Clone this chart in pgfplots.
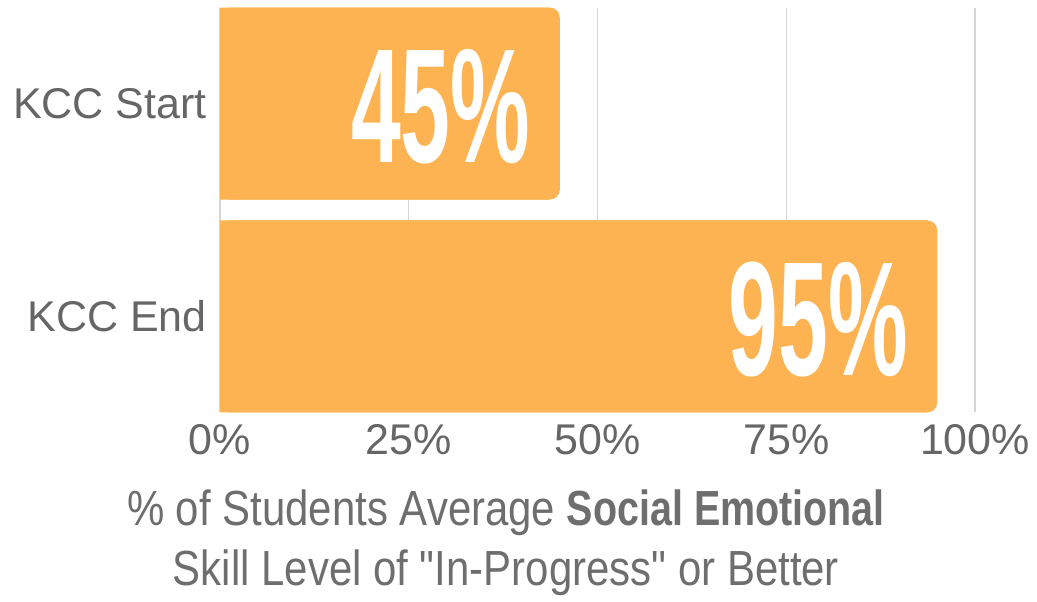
\documentclass[border=0pt]{standalone}
\usepackage{pgfplots}
\pgfplotsset{compat=1.18}
\usepackage{fontspec}
\setmainfont{Liberation Sans}
\newfontfamily\bigfont[FakeStretch=0.55]{Liberation Sans}
\newfontfamily\titlefont[FakeStretch=0.85]{Liberation Sans}
\newfontfamily\titleb[FakeStretch=0.80]{Liberation Sans}
\definecolor{barc}{HTML}{FEB352}
\definecolor{txt}{HTML}{666666}
\definecolor{titc}{HTML}{6E6E6E}
\definecolor{grd}{HTML}{D6D6D6}
\begin{document}
\begin{tikzpicture}
\useasboundingbox (0pt,0pt) rectangle (777.75pt,450.75pt);
\begin{axis}[
  at={(165pt,141.75pt)}, anchor=south west,
  width=566.25pt, height=303pt, scale only axis,
  xmin=0, xmax=100, ymin=-0.449, ymax=1.449,
  xtick={0,25,50,75,100}, xticklabels={0\%,25\%,50\%,75\%,100\%},
  ytick={0,1}, yticklabels={KCC End,KCC Start},
  xmajorgrids, major grid style={grd, line width=1pt},
  axis line style={draw=none}, major tick length=0pt,
  tick label style={font=\fontsize{32.25}{38}\selectfont, text=txt},
  xticklabel style={inner sep=0pt, anchor=north, yshift=-9pt},
  yticklabel style={inner sep=0pt, anchor=east, xshift=-9.75pt},
  xbar, bar width=144pt, bar shift=0pt,
  clip=false,
]
\addplot[fill=barc, draw=none, x filter/.code={\pgfmathparse{\pgfmathresult-1.4}}] coordinates {(95,0) (45,1)};
\addplot[fill=barc, draw=none, rounded corners=7.5pt,
  point meta=explicit symbolic, nodes near coords,
  nodes near coords style={anchor=east, xshift=-22pt, yshift=-2pt, text=white, inner sep=0pt,
    font=\bigfont\bfseries\fontsize{122}{130}\selectfont}]
  coordinates {(95,0) [95\%] (45,1) [45\%]};
\end{axis}
\node[anchor=base, text=titc, font=\titlefont\fontsize{37}{45}\selectfont, inner sep=0pt] at (379.5pt,57pt) {\% of Students Average {\titleb\bfseries Social Emotional}};
\node[anchor=base, text=titc, font=\titlefont\fontsize{37}{45}\selectfont, inner sep=0pt] at (379.5pt,12pt) {Skill Level of "In-Progress" or Better};
\end{tikzpicture}
\end{document}
